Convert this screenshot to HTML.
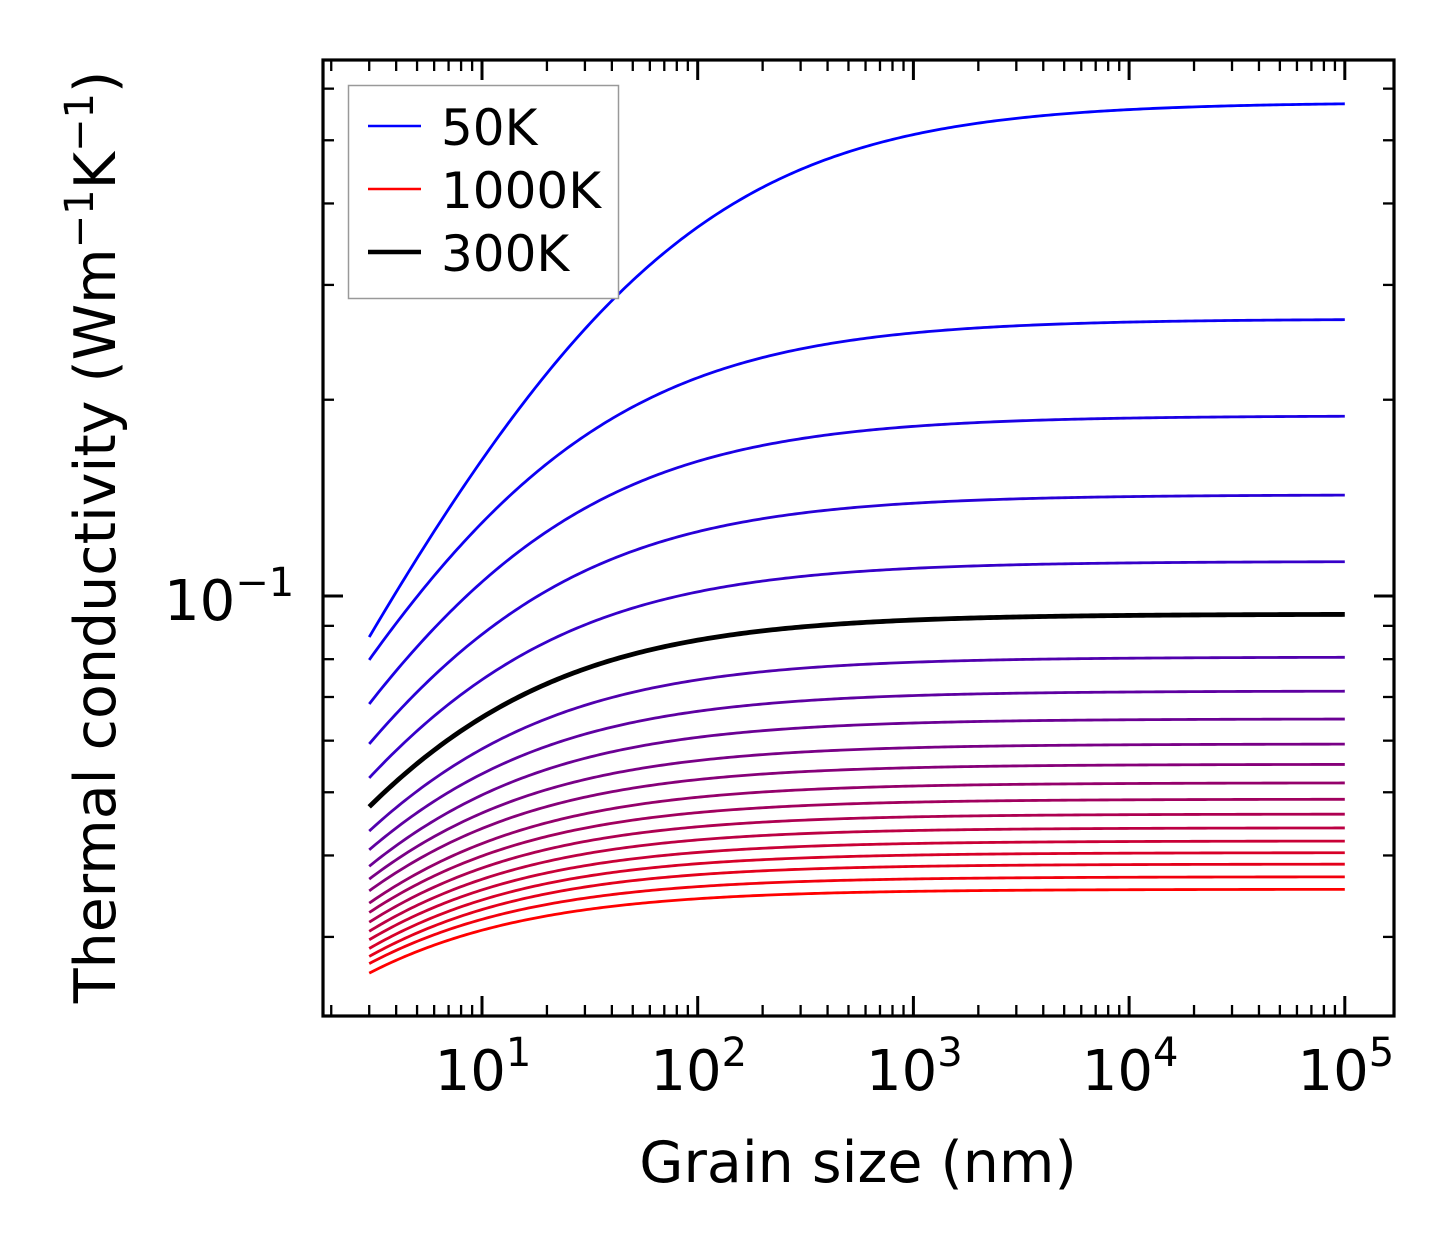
<!DOCTYPE html>
<html><head><meta charset="utf-8"><style>
html,body{margin:0;padding:0;background:#fff;}
svg{display:block;font-family:"DejaVu Sans","Liberation Sans",sans-serif;}
</style></head><body>
<svg id="chart" width="1454" height="1254" viewBox="0 0 1454 1254" xmlns="http://www.w3.org/2000/svg">
<g id="plot"></g>
<g id="axes"></g>
<text x="858" y="1182" font-size="57" text-anchor="middle">Grain size (nm)</text>
<text transform="translate(115,537) rotate(-90)" font-size="57" text-anchor="middle">Thermal conductivity (Wm<tspan font-size="40" dy="-22">−1</tspan><tspan dy="22">K</tspan><tspan font-size="40" dy="-22">−1</tspan><tspan dy="22">)</tspan></text>
<g>
<rect x="348.5" y="85.5" width="270" height="213" fill="#fff" stroke="#999" stroke-width="1.5"/>
<line x1="368" y1="126" x2="421" y2="126" stroke="rgb(0,0,255)" stroke-width="2.5"/>
<text x="441" y="145" font-size="50">50K</text>
<line x1="368" y1="189" x2="421" y2="189" stroke="rgb(255,0,0)" stroke-width="2.5"/>
<text x="441" y="208" font-size="50">1000K</text>
<line x1="368" y1="252" x2="421" y2="252" stroke="#000" stroke-width="4.5"/>
<text x="441" y="271" font-size="50">300K</text>
</g>
</svg>
<script>
// Data
const temperatures = [50,100,150,200,250,300,350,400,450,500,550,600,650,700,750,800,850,900,950,1000];
const kPlateau = [0.572,0.266,0.189,0.143,0.113,0.0938,0.0806,0.0715,0.0648,0.0593,0.0552,0.0517,0.0488,0.0463,0.0441,0.0421,0.0404,0.0388,0.0371,0.0355];
const kAt3nm = [0.0865,0.0798,0.0683,0.0593,0.0526,0.0475,0.0436,0.0408,0.0385,0.0368,0.0353,0.0338,0.0327,0.0316,0.0306,0.0297,0.0288,0.0280,0.0273,0.0264];
const grainMin = 3, grainMax = 1e5;
const xTickExps = [1,2,3,4,5];
const yTickLabels = ["10⁻¹"];

// Axes mapping
const X0=323, X1=1394, Y0=60, Y1=1016;
const pxPerDecX = 215.7;
const yRef = 596, pxPerDecY = 652;
function xs(v){ return 482 + (Math.log10(v)-1)*pxPerDecX; }
function ys(v){ return yRef - (Math.log10(v)+1)*pxPerDecY; }

const NS="http://www.w3.org/2000/svg";
const plot=document.getElementById('plot');
const axes=document.getElementById('axes');
const a = 0.66, refL = 3;
temperatures.forEach((T,i)=>{
  const kinf=kPlateau[i], k3=kAt3nm[i];
  const c = kinf/k3 - 1;
  let d="";
  for(let j=0;j<=300;j++){
    const L = grainMin*Math.pow(grainMax/grainMin, j/300);
    const k = kinf/(1 + c*Math.pow(refL/L, a));
    d += (j?"L":"M")+xs(L).toFixed(2)+","+ys(k).toFixed(2);
  }
  const p=document.createElementNS(NS,'path');
  p.setAttribute('d',d);
  p.setAttribute('fill','none');
  const f=i/(temperatures.length-1);
  const black = T===300;
  p.setAttribute('stroke', black ? '#000' : `rgb(${Math.round(255*f)},0,${Math.round(255*(1-f))})`);
  p.setAttribute('stroke-width', black ? 4.8 : 2.8);
  
  
  plot.appendChild(p);
});

function line(x1,y1,x2,y2,w,name){
  const l=document.createElementNS(NS,'line');
  l.setAttribute('x1',x1);l.setAttribute('y1',y1);l.setAttribute('x2',x2);l.setAttribute('y2',y2);
  l.setAttribute('stroke','#000');l.setAttribute('stroke-width',w);
  
  
  axes.appendChild(l);
}
for(let e=0;e<=5;e++){
  for(let m=1;m<10;m++){
    const v=m*Math.pow(10,e); const x=xs(v);
    if(x<X0+2||x>X1-2) continue;
    const len = m===1?20:11, w = m===1?3:2.3;
    line(x,Y1,x,Y1-len,w,'x-tick');
    line(x,Y0,x,Y0+len,w,'x-tick-top');
  }
}
for(let e=-2;e<=0;e++){
  for(let m=1;m<10;m++){
    const v=m*Math.pow(10,e); const y=ys(v);
    if(y<Y0+2||y>Y1-2) continue;
    const len = m===1?20:11, w = m===1?3:2.3;
    line(X0,y,X0+len,y,w,'y-tick');
    line(X1,y,X1-len,y,w,'y-tick-right');
  }
}
const r=document.createElementNS(NS,'rect');
r.setAttribute('x',X0);r.setAttribute('y',Y0);r.setAttribute('width',X1-X0);r.setAttribute('height',Y1-Y0);
r.setAttribute('fill','none');r.setAttribute('stroke','#000');r.setAttribute('stroke-width',3.2);


axes.appendChild(r);
xTickExps.forEach(e=>{
  const t=document.createElementNS(NS,'text');
  t.setAttribute('x',xs(Math.pow(10,e))+1);t.setAttribute('y',1090);
  t.setAttribute('font-size',56);t.setAttribute('text-anchor','middle');
  t.innerHTML='10<tspan font-size="40" dy="-24">'+e+'</tspan>';
  
  
  axes.appendChild(t);
});
yTickLabels.forEach(s=>{
  const t=document.createElementNS(NS,'text');
  t.setAttribute('x',164);t.setAttribute('y',ys(0.1)+24);
  t.setAttribute('font-size',56);
  t.innerHTML='10<tspan font-size="40" dy="-24">−1</tspan>';
  
  
  axes.appendChild(t);
});
</script>
</body></html>
